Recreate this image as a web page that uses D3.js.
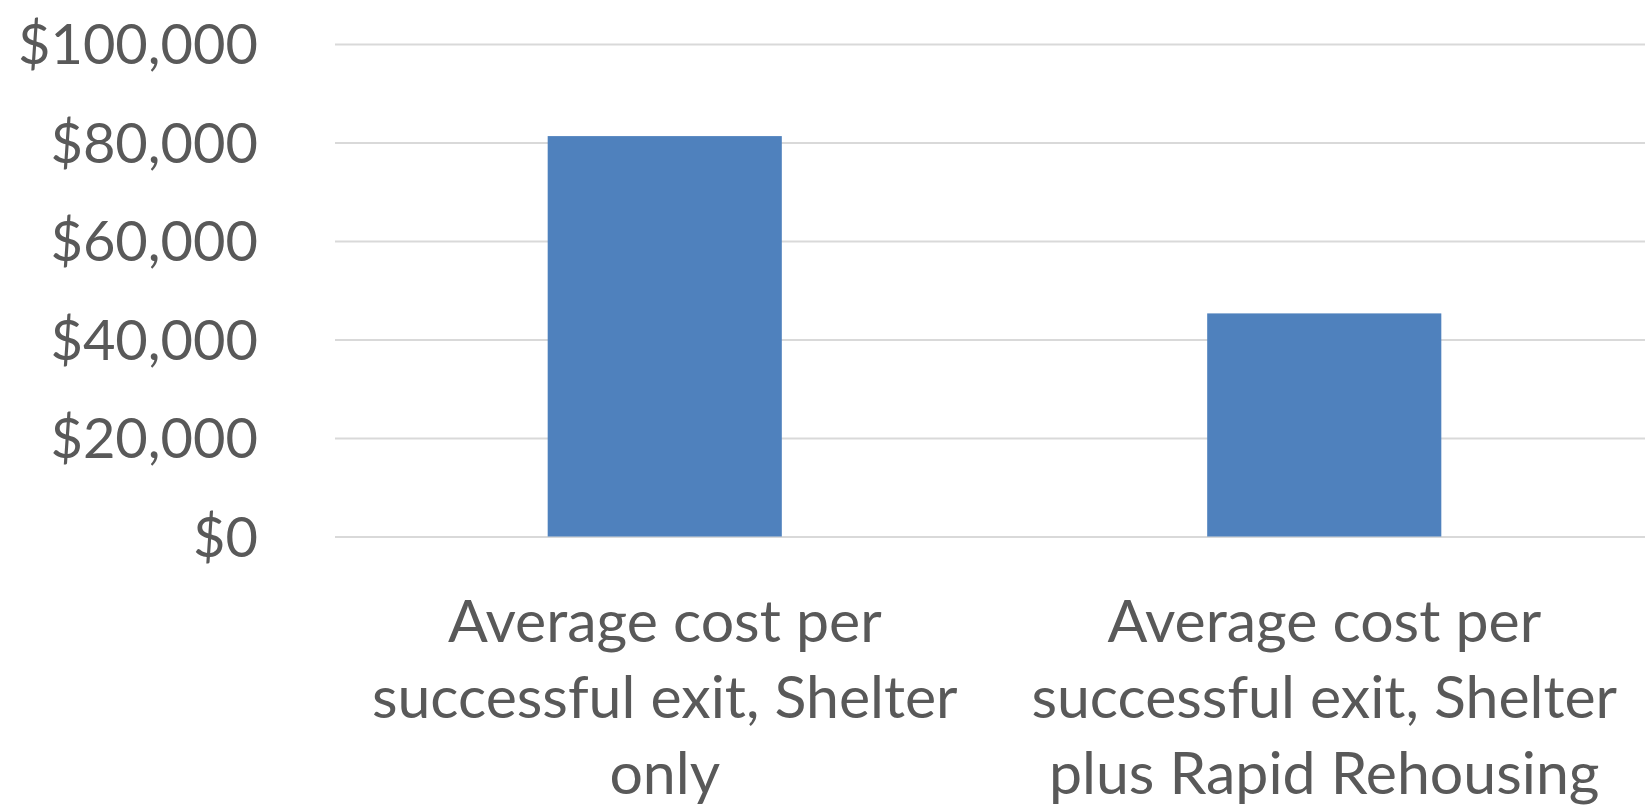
<!DOCTYPE html>
<html>
<head>
<meta charset="utf-8">
<script src="https://cdn.jsdelivr.net/npm/d3@7"></script>
<style>
  html, body { margin: 0; padding: 0; background: #fff; }
  svg { display: block; }
</style>
</head>
<body>
<svg id="chart" width="1645" height="805"></svg>
<script>
// Average cost per successful exit by program type
const categories = [
  "Average cost per successful exit, Shelter only",
  "Average cost per successful exit, Shelter plus Rapid Rehousing"
];
const categoryLines = [
  ["Average cost per", "successful exit, Shelter", "only"],
  ["Average cost per", "successful exit, Shelter", "plus Rapid Rehousing"]
];
const costs = [81300, 45300];
const tickValues = [0, 20000, 40000, 60000, 80000, 100000];

const FONT = "Lato, 'Open Sans', sans-serif";
const TEXT = "#595959";

const svg = d3.select("#chart");
const plotLeft = 335, plotRight = 1654, plotTop = 44, plotBottom = 536.5;

const x = d3.scaleBand()
  .domain(categories)
  .range([plotLeft, plotRight])
  .paddingInner(0.645)
  .paddingOuter(0.3225);

const y = d3.scaleLinear()
  .domain([0, 100000])
  .range([plotBottom, plotTop]);

// value axis with gridlines
const yAxis = d3.axisLeft(y)
  .tickValues(tickValues)
  .tickSize(-(plotRight - plotLeft))
  .tickPadding(77)
  .tickFormat(d => "$" + d3.format(",")(d));

const gy = svg.append("g")
  .attr("transform", `translate(${plotLeft},0)`)
  .call(yAxis);
gy.select(".domain").remove();
gy.selectAll(".tick line")
  .attr("stroke", "#d9d9d9")
  .attr("stroke-width", 2);
gy.selectAll(".tick text")
  .attr("fill", TEXT)
  .attr("font-family", FONT)
  .attr("font-size", 56)
  .attr("dy", "0.35em");

// bars
svg.append("g")
  .selectAll("rect")
  .data(costs)
  .join("rect")
  .attr("x", (d, i) => x(categories[i]))
  .attr("width", x.bandwidth())
  .attr("y", d => y(d))
  .attr("height", d => y(0) - y(d))
  .attr("fill", "#4f81bd");

// category labels
const labels = svg.append("g")
  .selectAll("text")
  .data(categories)
  .join("text")
  .attr("text-anchor", "middle")
  .attr("fill", TEXT)
  .attr("font-family", FONT)
  .attr("font-size", 59)
  .attr("transform", d => `translate(${x(d) + x.bandwidth() / 2},${plotBottom + 105.5})`);

labels.selectAll("tspan")
  .data((d, i) => categoryLines[i])
  .join("tspan")
  .attr("x", 0)
  .attr("y", (d, j) => j * 76)
  .text(d => d);
</script>
</body>
</html>
